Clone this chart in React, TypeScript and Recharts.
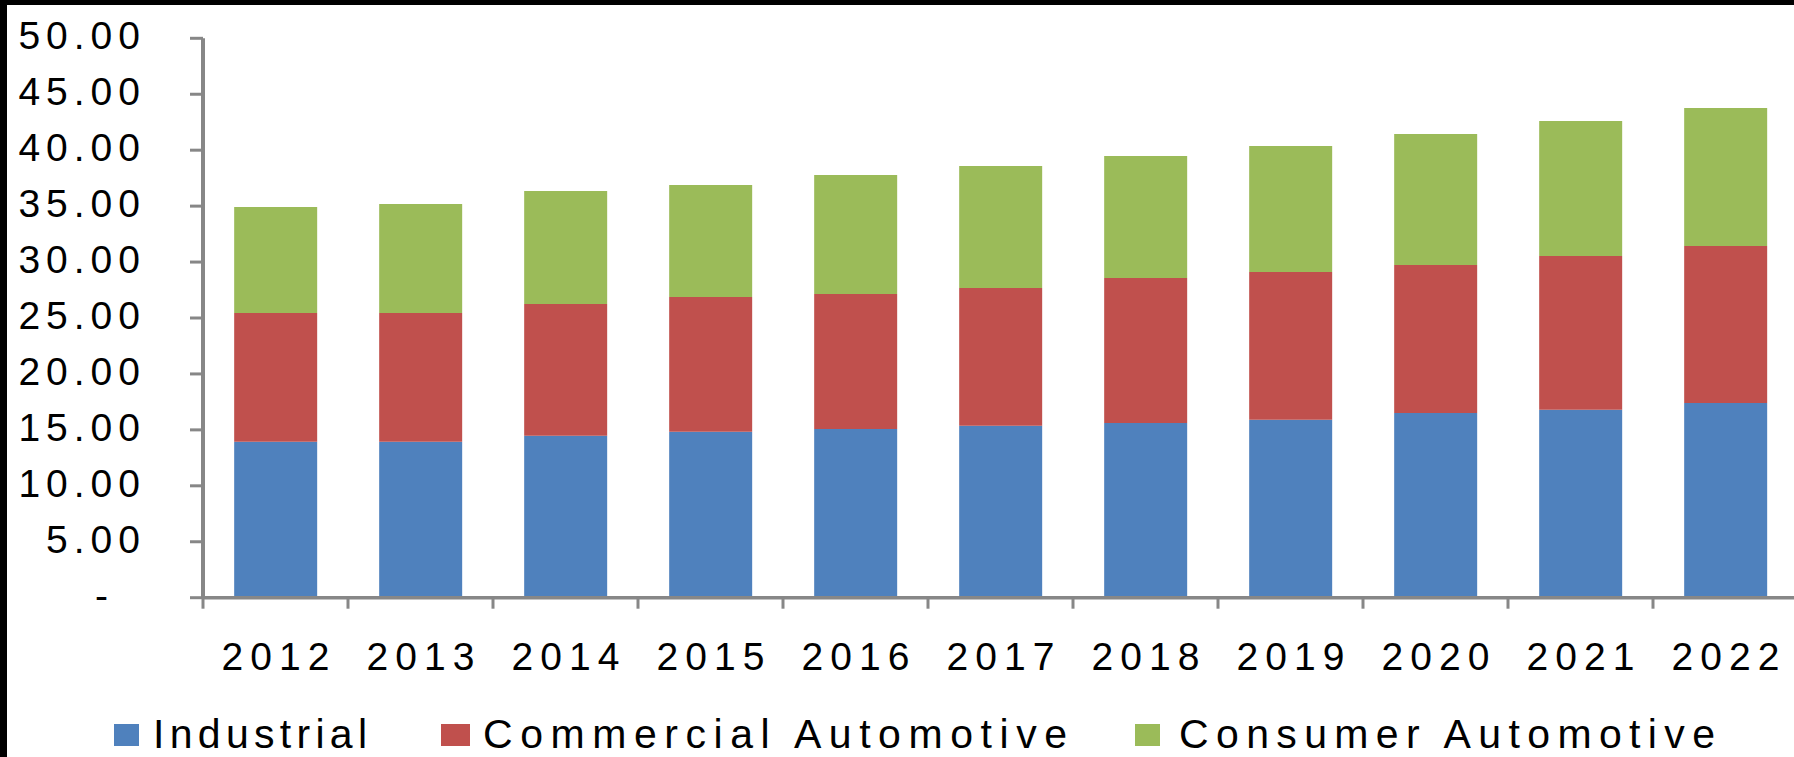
import React from 'react';
import { BarChart, Bar, XAxis, YAxis, Legend } from 'recharts';

// ---- data ----
const YEARS = ['2012', '2013', '2014', '2015', '2016', '2017', '2018', '2019', '2020', '2021', '2022'];
const INDUSTRIAL = [13.94, 13.94, 14.48, 14.84, 15.08, 15.37, 15.61, 15.91, 16.51, 16.8, 17.4];
const COMMERCIAL = [11.51, 11.51, 11.77, 12.03, 12.07, 12.31, 12.96, 13.2, 13.23, 13.74, 14.03];
const CONSUMER = [9.47, 9.74, 10.1, 10.02, 10.63, 10.9, 10.9, 11.26, 11.7, 12.06, 12.33];
const Y_TICKS = [0, 5, 10, 15, 20, 25, 30, 35, 40, 45, 50];
const SERIES_NAMES = ['Industrial', 'Commercial Automotive', 'Consumer Automotive'];

const KEYS = ['industrial', 'commercial', 'consumer'];
const COLORS = ['#4F81BD', '#C0504D', '#9BBB59'];

const data = YEARS.map((year, i) => ({
  year,
  industrial: INDUSTRIAL[i],
  commercial: COMMERCIAL[i],
  consumer: CONSUMER[i],
}));

// ---- style / layout ----
const AXIS = '#878787';
const FONT = '"Liberation Sans", Arial, Helvetica, sans-serif';
const CHART_W = 1800;
const CHART_H = 757;
const LEGEND_H = 60;
const XAXIS_H = 99.3;
const YAXIS_W = 203;
const TOP = 38.3;

const LEGEND_LAYOUT = [
  { sx: 114, sw: 25, tx: 153, tl: 214 },
  { sx: 441, sw: 29, tx: 483, tl: 584 },
  { sx: 1135, sw: 25, tx: 1179, tl: 536 },
];

function YTick(props: any) {
  const { x, y, payload } = props;
  const v = payload.value as number;
  const isZero = v === 0;
  const label = isZero ? '-' : v.toFixed(2);
  return (
    <text
      x={isZero ? x - 76 : x - 44}
      y={y + 11}
      textAnchor="end"
      fill="#000"
      fontFamily={FONT}
      fontSize={39}
      letterSpacing={6}
    >
      {label}
    </text>
  );
}

function XTick(props: any) {
  const { x, y, payload } = props;
  const half = typeof payload.offset === 'number' && payload.offset > 0 ? payload.offset : 72.5;
  return (
    <g>
      <line x1={x - half} x2={x - half} y1={y} y2={y + 11} stroke={AXIS} strokeWidth={3} />
      <text
        x={x + 3.5}
        y={y + 72.5}
        textAnchor="middle"
        fill="#000"
        fontFamily={FONT}
        fontSize={39}
        letterSpacing={7}
      >
        {payload.value}
      </text>
    </g>
  );
}

function LegendContent() {
  return (
    <svg width={CHART_W} height={LEGEND_H} style={{ display: 'block' }}>
      {SERIES_NAMES.map((name, i) => {
        const l = LEGEND_LAYOUT[i];
        return (
          <g key={name}>
            <rect x={l.sx} y={27} width={l.sw} height={22} fill={COLORS[i]} />
            <text
              x={l.tx}
              y={51}
              fill="#000"
              fontFamily={FONT}
              fontSize={41}
              textLength={l.tl}
              lengthAdjust="spacing"
            >
              {name}
            </text>
          </g>
        );
      })}
    </svg>
  );
}

export default function App() {
  return (
    <div
      style={{
        position: 'absolute',
        left: 0,
        top: 0,
        width: 1794,
        height: 757,
        overflow: 'hidden',
        background: '#fff',
      }}
    >
      <BarChart
        width={CHART_W}
        height={CHART_H}
        data={data}
        margin={{ top: TOP, right: 2, bottom: 0, left: 0 }}
        barCategoryGap="21.5%"
      >
        <XAxis
          dataKey="year"
          height={XAXIS_H}
          axisLine={{ stroke: AXIS, strokeWidth: 3.5 }}
          tickLine={false}
          tickSize={0}
          tickMargin={0}
          tick={<XTick />}
          interval={0}
        />
        <YAxis
          width={YAXIS_W}
          domain={[0, 50]}
          ticks={Y_TICKS}
          interval={0}
          axisLine={{ stroke: AXIS, strokeWidth: 4 }}
          tickLine={{ stroke: AXIS, strokeWidth: 3 }}
          tickSize={13}
          tickMargin={0}
          tick={<YTick />}
        />
        <Legend
          verticalAlign="bottom"
          height={LEGEND_H}
          content={<LegendContent />}
          wrapperStyle={{ left: 0, bottom: 0, margin: 0, padding: 0, lineHeight: 0 }}
        />
        {KEYS.map((k, i) => (
          <Bar
            key={k}
            dataKey={k}
            name={SERIES_NAMES[i]}
            stackId="a"
            fill={COLORS[i]}
            isAnimationActive={false}
          />
        ))}
      </BarChart>
      <div style={{ position: 'absolute', left: 0, top: 0, width: 7, height: 757, background: '#000' }} />
      <div style={{ position: 'absolute', left: 0, top: 0, width: 1794, height: 5, background: '#000' }} />
    </div>
  );
}
